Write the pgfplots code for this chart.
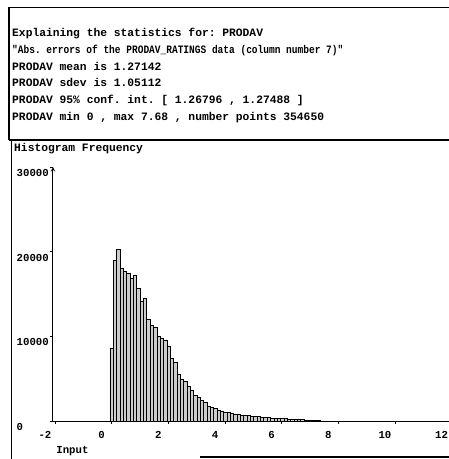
\documentclass[border=0pt]{standalone}
\usepackage{fontspec}
\setmainfont{Liberation Mono}[Ligatures=TeXOff]
\usepackage{graphicx}
\usepackage{pgfplots}
\pgfplotsset{compat=1.18}
\usepackage{pgfplotstable}

% histogram counts, bin width about 0.118
\pgfplotstableread{
x y
0.000 8600
0.118 19000
0.236 20300
0.354 18000
0.472 17700
0.590 17400
0.708 16900
0.826 17200
0.944 15700
1.062 14200
1.180 14500
1.298 12000
1.416 11300
1.534 11100
1.652 9960
1.770 9760
1.888 9570
2.006 8780
2.124 7400
2.242 6890
2.360 5550
2.478 4920
2.596 4720
2.714 4130
2.832 3580
2.950 3070
3.068 2800
3.186 2480
3.304 2160
3.422 1690
3.540 1610
3.658 1460
3.776 1250
3.894 1150
4.012 1060
4.130 980
4.248 900
4.366 840
4.484 780
4.602 730
4.720 680
4.838 630
4.956 590
5.074 550
5.192 510
5.310 470
5.428 440
5.546 410
5.664 380
5.782 350
5.900 320
6.018 300
6.136 270
6.254 250
6.372 220
6.490 200
6.608 170
6.726 150
6.844 130
6.962 110
7.080 90
7.198 70
7.316 50
7.434 30
7.552 15
}\histdata

\newcommand{\tfont}{\bfseries\fontsize{11.3}{13}\selectfont}

\begin{document}
\frenchspacing
\begin{tikzpicture}
\useasboundingbox (0,0) rectangle (449pt,-459pt);

% frames
\draw[line width=1pt] (9pt,-7pt) -- (449pt,-7pt);
\draw[line width=1.3pt] (9pt,-7pt) -- (9pt,-140pt);
\draw[line width=1.3pt] (9pt,-140pt) -- (449pt,-140pt);
\draw[line width=1.3pt] (11.5pt,-140pt) -- (11.5pt,-459pt);
\draw[line width=1.3pt] (200pt,-457pt) -- (449pt,-457pt);

\begin{scope}[every node/.style={anchor=base west, inner sep=0pt, font=\tfont}]
\node at (12pt,-36.5pt) {Explaining the statistics for: PRODAV};
\node at (12pt,-53.3pt) {\scalebox{0.842}[1]{"Abs. errors of the PRODAV\_RATINGS data (column number 7)"}};
\node at (12pt,-70.1pt) {PRODAV mean is 1.27142};
\node at (12pt,-86.9pt) {PRODAV sdev is 1.05112};
\node at (12pt,-103.7pt) {PRODAV 95\% conf. int. [ 1.26796 , 1.27488 ]};
\node at (12pt,-120.5pt) {PRODAV min 0 , max 7.68 , number points 354650};
\node at (14pt,-151.5pt) {Histogram Frequency};
\end{scope}

\begin{axis}[
    at={(53pt,-421pt)}, anchor=south west,
    scale only axis, width=398.6pt, height=254pt,
    xmin=-2.07, xmax=12, ymin=0, ymax=30000,
    axis x line*=bottom, axis y line=left,
    axis line style={line width=1pt},
    xtick={-2,0,2,4,6,8,10,12},
    ytick={0,10000,20000,30000},
    scaled y ticks=false,
    /pgf/number format/assume math mode=true,
    /pgf/number format/1000 sep={},
    tick align=outside, major tick length=2.5pt,
    tick style={black, line width=0.8pt},
    ticklabel style={font=\bfseries\fontsize{10.7}{12}\selectfont, inner sep=0pt},
    xticklabel style={anchor=north, xshift=-10pt, yshift=-8pt},
    yticklabel style={anchor=base west, xshift=-34pt, yshift=-9.5pt},
    xlabel={Input},
    xlabel style={at={(axis description cs:0.008,-0.117)}, anchor=west,
                  inner sep=0pt, font=\bfseries\fontsize{10.7}{12}\selectfont},
  ]
  \addplot[ybar, bar width=0.118, bar shift=0pt, fill=gray!40, draw=black,
           line width=0.5pt] table[x=x, y=y] {\histdata};
\end{axis}
\end{tikzpicture}
\end{document}
